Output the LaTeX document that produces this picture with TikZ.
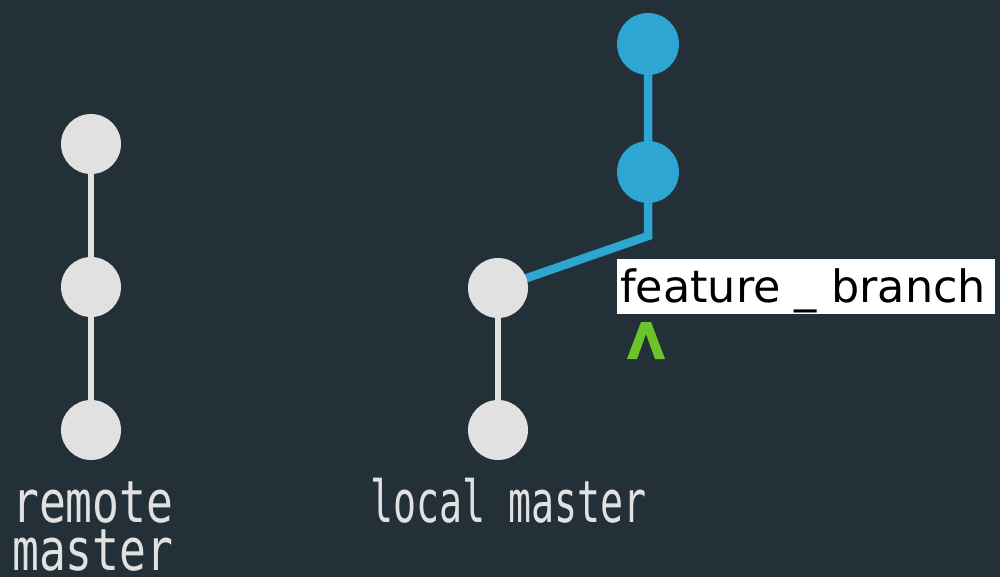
\documentclass[tikz,border=0pt]{standalone}
\usepackage{fontspec}
\newfontfamily\labelfont{DejaVu Sans Mono}
\newfontfamily\tagfont{DejaVu Sans}
\definecolor{bgc}{HTML}{243038}
\definecolor{gcirc}{HTML}{E1E1E1}
\definecolor{bcirc}{HTML}{2DA6D3}
\definecolor{caret}{HTML}{6CC42A}
\begin{document}
\begin{tikzpicture}[x=1pt,y=-1pt,
  commit/.style={circle,fill=gcirc,minimum size=60pt,inner sep=0pt},
  bcommit/.style={circle,fill=bcirc,minimum size=62pt,inner sep=0pt},
  gline/.style={draw=gcirc,line width=6pt},
  bline/.style={draw=bcirc,line width=8.5pt},
  lbl/.style={text=gcirc,font=\labelfont\fontsize{58}{58}\selectfont,inner sep=0pt,anchor=base west,text height=34pt,text depth=0pt}]
\fill[bgc] (0,0) rectangle (1000,577);
\useasboundingbox (0,0) rectangle (1000,577);
% remote master
\coordinate (r1) at (91,144);
\coordinate (r2) at (91,287);
\coordinate (r3) at (91,430);
\draw[gline] (r1) -- (r2) -- (r3);
\node[commit] (R1) at (r1) {};
\node[commit] (R2) at (r2) {};
\node[commit] (R3) at (r3) {};
% local master
\coordinate (l1) at (498,288);
\coordinate (l2) at (498,430);
\coordinate (b1) at (648,44);
\coordinate (b2) at (648,172);
\coordinate (corner) at (648,236);
\draw[gline] (l1) -- (l2);
\draw[bline] (b1) -- (b2) -- (corner) -- (l1);
\node[commit] (L1) at (l1) {};
\node[commit] (L2) at (l2) {};
\node[bcommit] (B1) at (b1) {};
\node[bcommit] (B2) at (b2) {};
% labels
\node[lbl,xscale=0.77] (remote) at (12,522) {remote};
\node[lbl,xscale=0.77] (remote2) at (12,570) {master};
\node[lbl,xscale=0.66] (local) at (370,522) {local master};
\node[fill=white,minimum width=378pt,minimum height=55pt,inner sep=0pt,anchor=north west] (tag) at (617,259) {};
\node[text=black,font=\tagfont\fontsize{44.5}{44}\selectfont,inner sep=0pt,anchor=base west] (tagtext) at (620,302) {feature \_ branch};
\fill[caret] (627,359) -- (641,322) -- (651,322) -- (665,359) -- (655,359) -- (646,334) -- (637,359) -- cycle;
\end{tikzpicture}
\end{document}
